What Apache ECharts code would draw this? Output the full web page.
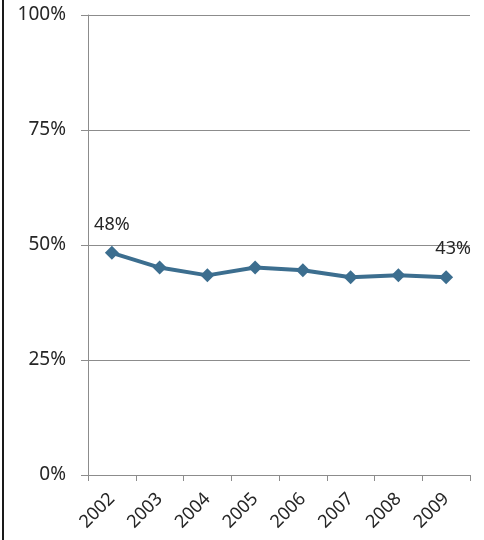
<!DOCTYPE html>
<html>
<head>
<meta charset="utf-8">
<script src="https://cdn.jsdelivr.net/npm/echarts@6/dist/echarts.min.js"></script>
<style>
  html, body { margin: 0; padding: 0; background: #fff; }
  #chart { width: 484px; height: 540px; }
</style>
</head>
<body>
<div id="chart"></div>
<script>
// Share by year, in percent
const years = ['2002', '2003', '2004', '2005', '2006', '2007', '2008', '2009'];
const shares = [48.3, 45.1, 43.4, 45.1, 44.5, 43.0, 43.4, 43.0];
// Which points carry a value label
const labelled = [true, false, false, false, false, false, false, true];
const labelTexts = ['48%', '', '', '', '', '', '', '43%'];

const FONT = 'Noto Sans';
const chart = echarts.init(document.getElementById('chart'));

const seriesData = shares.map((v, i) => ({
  value: v,
  label: {
    show: labelled[i],
    formatter: labelTexts[i],
    offset: i === shares.length - 1 ? [7, 0] : [0, 0]
  }
}));

chart.setOption({
  animation: false,
  backgroundColor: '#ffffff',
  graphic: [{
    type: 'line',
    shape: { x1: 3, y1: 0, x2: 3, y2: 540 },
    style: { stroke: '#1a1a1a', lineWidth: 2 }
  }],
  grid: { left: 88, right: 14, top: 15, bottom: 65 },
  xAxis: {
    type: 'category',
    data: years,
    boundaryGap: true,
    axisLine: { lineStyle: { color: '#8c8c8c', width: 1 } },
    axisTick: { show: true, length: 6, alignWithLabel: false, lineStyle: { color: '#8c8c8c' } },
    axisLabel: {
      rotate: 45,
      margin: 21,
      color: '#262626',
      fontFamily: FONT,
      fontSize: 18,
      interval: 0
    }
  },
  yAxis: {
    type: 'value',
    min: 0,
    max: 100,
    interval: 25,
    axisLine: { show: true, lineStyle: { color: '#8c8c8c', width: 1 } },
    axisTick: { show: true, length: 7, lineStyle: { color: '#8c8c8c' } },
    splitLine: { lineStyle: { color: '#8c8c8c', width: 1 } },
    axisLabel: {
      formatter: '{value}%',
      margin: 22,
      color: '#262626',
      fontFamily: FONT,
      fontSize: 19
    }
  },
  series: [{
    type: 'line',
    data: seriesData,
    symbol: 'diamond',
    symbolSize: 14,
    lineStyle: { color: '#3c6e8f', width: 4 },
    itemStyle: { color: '#3c6e8f' },
    label: {
      position: 'top',
      distance: 12,
      color: '#262626',
      fontFamily: FONT,
      fontSize: 18
    }
  }]
});
</script>
</body>
</html>
